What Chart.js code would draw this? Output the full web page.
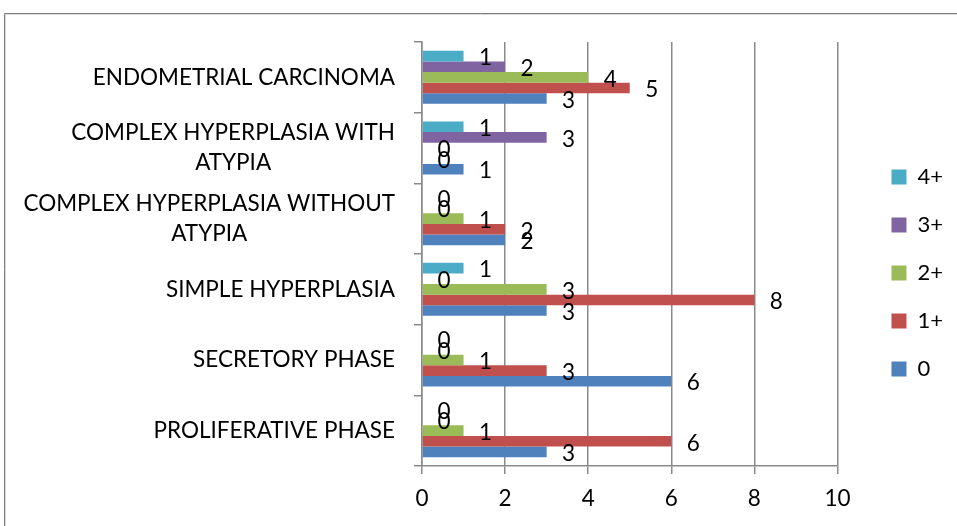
<!DOCTYPE html>
<html>
<head>
<meta charset="utf-8">
<script src="https://cdn.jsdelivr.net/npm/chart.js@4/dist/chart.umd.min.js"></script>
<style>
  html, body { margin: 0; padding: 0; background: #fff; }
  #wrap { position: relative; width: 957px; height: 526px; overflow: hidden; }
  canvas { position: absolute; left: 0; top: 0; }
</style>
</head>
<body>
<div id="wrap"><canvas id="c" width="957" height="526"></canvas></div>
<script>
const categories = [
  "ENDOMETRIAL CARCINOMA",
  ["COMPLEX HYPERPLASIA WITH", "ATYPIA"],
  ["COMPLEX HYPERPLASIA WITHOUT", "ATYPIA"],
  "SIMPLE HYPERPLASIA",
  "SECRETORY PHASE",
  "PROLIFERATIVE PHASE"
];
const seriesNames = ["4+", "3+", "2+", "1+", "0"];
const values4 = [1, 1, 0, 1, 0, 0];
const values3 = [2, 3, 0, 0, 0, 0];
const values2 = [4, 0, 1, 3, 1, 1];
const values1 = [5, 0, 2, 8, 3, 6];
const values0 = [3, 1, 2, 3, 6, 3];
const xTicks = [0, 2, 4, 6, 8, 10];
const colors = ["#4BACC6", "#8064A2", "#9BBB59", "#C0504D", "#4F81BD"];

const FONT = "Lato";
const GRID = "#8a8a8a";

const frame = {
  id: "frame",
  beforeDraw(chart) {
    const ctx = chart.ctx;
    ctx.save();
    ctx.fillStyle = "#fff";
    ctx.fillRect(0, 0, chart.width, chart.height);
    ctx.strokeStyle = "#7f7f7f";
    ctx.lineWidth = 1;
    ctx.beginPath();
    ctx.moveTo(4.5, chart.height);
    ctx.lineTo(4.5, 13.5);
    ctx.lineTo(chart.width, 13.5);
    ctx.stroke();
    ctx.strokeStyle = "#d9d9d9";
    ctx.beginPath();
    ctx.moveTo(5.5, chart.height);
    ctx.lineTo(5.5, 14.5);
    ctx.lineTo(chart.width, 14.5);
    ctx.stroke();
    ctx.restore();
  }
};

const catLabels = {
  id: "catLabels",
  afterDraw(chart) {
    const ctx = chart.ctx;
    const yScale = chart.scales.y;
    const right = chart.chartArea.left - 27;
    ctx.save();
    ctx.font = "22.5px " + FONT;
    ctx.fillStyle = "#000";
    ctx.textBaseline = "middle";
    ctx.textAlign = "center";
    categories.forEach((lab, i) => {
      const lines = Array.isArray(lab) ? lab : [lab];
      const w = Math.max(...lines.map(l => ctx.measureText(l).width));
      const cx = right - w / 2;
      const cy = yScale.getPixelForTick(i);
      const lh = 30;
      lines.forEach((l, k) => {
        ctx.fillText(l, cx, cy + (k - (lines.length - 1) / 2) * lh);
      });
    });
    ctx.restore();
  }
};

const dataLabels = {
  id: "dataLabels",
  afterDatasetsDraw(chart) {
    const ctx = chart.ctx;
    ctx.save();
    ctx.font = "22.5px " + FONT;
    ctx.fillStyle = "#000";
    ctx.textAlign = "center";
    ctx.textBaseline = "middle";
    chart.data.datasets.forEach((ds, i) => {
      const meta = chart.getDatasetMeta(i);
      meta.data.forEach((bar, j) => {
        ctx.fillText(String(ds.data[j]), bar.x + 22, bar.y + 2);
      });
    });
    ctx.restore();
  }
};

const allValues = [values4, values3, values2, values1, values0];

new Chart(document.getElementById("c"), {
  type: "bar",
  data: {
    labels: categories,
    datasets: seriesNames.map((n, i) => ({
      label: n,
      data: allValues[i],
      backgroundColor: colors[i],
      borderWidth: 0,
      categoryPercentage: 0.75,
      barPercentage: 1.0
    }))
  },
  options: {
    indexAxis: "y",
    responsive: false,
    animation: false,
    layout: { padding: { left: 0, top: 42, right: 4, bottom: 0 } },
    plugins: {
      legend: {
        position: "right",
        fullSize: false,
        title: { display: true, text: "", font: { size: 10, lineHeight: 1 }, padding: { top: 28, bottom: 0 } },
        labels: {
          font: { family: FONT, size: 22 },
          color: "#000",
          boxWidth: 15,
          boxHeight: 15,
          padding: 26
        }
      },
      tooltip: { enabled: false }
    },
    scales: {
      x: {
        min: 0,
        max: 10,
        afterBuildTicks(s) { s.ticks = xTicks.map(v => ({ value: v })); },
        afterFit(s) { s.height = 526 - 466; },
        grid: { color: GRID, lineWidth: 1.5, tickLength: 8, tickColor: GRID },
        border: { color: GRID, width: 1.5 },
        ticks: { font: { family: FONT, size: 22.5 }, color: "#000", padding: 11 }
      },
      y: {
        afterFit(s) { s.width = 422; },
        grid: { drawOnChartArea: false, drawTicks: true, tickLength: 8, color: GRID, lineWidth: 1.5, offset: true },
        border: { color: GRID, width: 1.5 },
        ticks: { font: { family: FONT, size: 21 }, color: "rgba(0,0,0,0)" }
      },
      spacer: {
        type: "linear",
        position: "right",
        display: true,
        afterFit(s) { s.width = 28; },
        grid: { display: false, drawTicks: false },
        border: { display: false },
        ticks: { display: false }
      }
    }
  },
  plugins: [frame, catLabels, dataLabels]
});
</script>
</body>
</html>
